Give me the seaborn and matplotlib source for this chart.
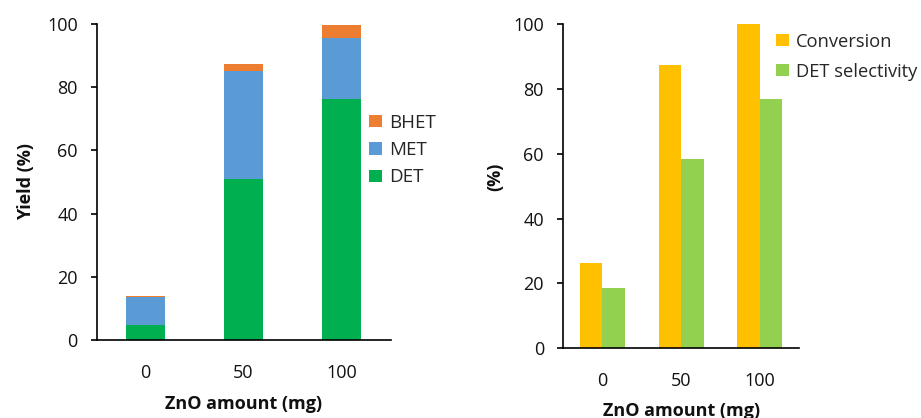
import numpy as np
import pandas as pd
import matplotlib
matplotlib.use("Agg")
import matplotlib.pyplot as plt
import seaborn as sns

# ---- data ----
zno = ["0", "50", "100"]
det = [4.6, 50.8, 76.4]
met = [8.9, 34.3, 19.1]
bhet = [0.4, 2.1, 4.3]

conversion = [26.2, 87.4, 100.0]
det_selectivity = [18.5, 58.4, 76.9]

sns.set_style("white")
plt.rcParams["font.family"] = ["Open Sans", "DejaVu Sans"]

fig = plt.figure(figsize=(9.21, 4.18), dpi=100)
ax1 = fig.add_axes([0.1048, 0.1866, 0.3192, 0.756])
ax2 = fig.add_axes([0.611, 0.1667, 0.257, 0.7758])

c_bhet, c_met, c_det = "#ED7D31", "#5B9BD5", "#00B050"
c_conv, c_sel = "#FFC000", "#92D050"

# ---- left: stacked bars ----
s_det = np.array(det)
s_met = s_det + np.array(met)
s_bhet = s_met + np.array(bhet)
df1 = pd.DataFrame({"zno": zno, "det": s_det, "met": s_met, "bhet": s_bhet})
sns.barplot(data=df1, x="zno", y="bhet", color=c_bhet, width=0.4, ax=ax1,
            label="BHET", saturation=1, linewidth=0)
sns.barplot(data=df1, x="zno", y="met", color=c_met, width=0.4, ax=ax1,
            label="MET", saturation=1, linewidth=0)
sns.barplot(data=df1, x="zno", y="det", color=c_det, width=0.4, ax=ax1,
            label="DET", saturation=1, linewidth=0)

# ---- right: grouped bars ----
df2 = pd.DataFrame({
    "zno": zno * 2,
    "value": conversion + det_selectivity,
    "kind": ["Conversion"] * 3 + ["DET selectivity"] * 3,
})
sns.barplot(data=df2, x="zno", y="value", hue="kind",
            palette=[c_conv, c_sel], width=0.57, ax=ax2,
            saturation=1, linewidth=0)

fs = 13
tc = "#111111"
for ax in (ax1, ax2):
    ax.set_xlim(-0.5, 2.5)
    ax.set_ylim(0, 100)
    ax.set_yticks([0, 20, 40, 60, 80, 100])
    for s in ("top", "right"):
        ax.spines[s].set_visible(False)
    for s in ("left", "bottom"):
        ax.spines[s].set_color("black")
        ax.spines[s].set_linewidth(1.2)
    ax.tick_params(axis="y", which="major", direction="out", length=4.5,
                   width=1.2, color="black", labelsize=fs, pad=9,
                   labelcolor=tc, left=True)
    ax.tick_params(axis="x", length=0, labelsize=fs, pad=17,
                   labelcolor=tc, bottom=True)
    ax.set_xlabel("ZnO amount (mg)", fontsize=fs, fontweight="bold", color=tc)

ax1.set_ylabel("Yield (%)", fontsize=fs, fontweight="bold", color=tc)
ax2.set_ylabel("(%)", fontsize=fs, fontweight="bold", color=tc)
ax1.yaxis.set_label_coords(-0.21, 0.5)
ax2.yaxis.set_label_coords(-0.245, 0.53)
ax1.xaxis.set_label_coords(0.5, -0.175)
ax2.xaxis.set_label_coords(0.5, -0.165)

ax1.legend(loc="upper left", bbox_to_anchor=(0.401, 0.728),
           bbox_transform=fig.transFigure, frameon=False, fontsize=13.5,
           handlelength=0.66, handleheight=0.66, handletextpad=0.4,
           labelspacing=0.5, borderpad=0, borderaxespad=0)
ax2.legend(title=None, loc="upper left", bbox_to_anchor=(0.843, 0.922),
           bbox_transform=fig.transFigure, frameon=False, fontsize=13.2,
           handlelength=0.66, handleheight=0.66, handletextpad=0.4,
           labelspacing=0.65, borderpad=0, borderaxespad=0)

fig.savefig("out.png", dpi=100, facecolor="white")
